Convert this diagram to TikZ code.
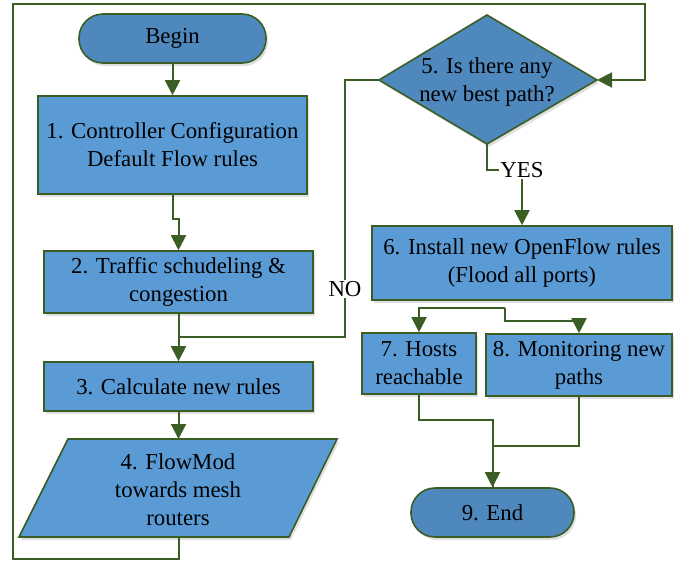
\documentclass[tikz,border=0pt]{standalone}
\usepackage{fontspec}
\setmainfont{Liberation Serif}
\usetikzlibrary{arrows.meta,shadows,calc}
\definecolor{edgegreen}{HTML}{3B5E24}
\definecolor{boxblue}{HTML}{5B9BD5}
\definecolor{termblue}{HTML}{4F88BD}
\tikzset{
  shadowed/.style={drop shadow={shadow xshift=2pt,shadow yshift=-3pt,opacity=0.12,fill=black}},
  procbox/.style={draw=edgegreen, line width=1.6pt, fill=boxblue, inner sep=0pt, align=center, shadowed},
  termbox/.style={draw=edgegreen, line width=1.6pt, fill=termblue, inner sep=0pt, rounded corners=24pt, align=center, shadowed},
  link/.style={draw=edgegreen, line width=2pt},
  arr/.style={link, -{Triangle[length=15pt,width=15pt]}},
  lbl/.style={fill=white, inner sep=1pt},
}
\begin{document}
\begin{tikzpicture}[x=1pt,y=-1pt,font=\fontsize{22.8}{28}\selectfont]
\useasboundingbox (0,0) rectangle (681,563);
% nodes
\node[termbox, minimum width=187, minimum height=49] (begin) at (172.5,38.5) {Begin};
\node[procbox, minimum width=269, minimum height=98] (b1) at (172.5,145) {1. Controller Configuration\\Default Flow rules};
\node[procbox, minimum width=269, minimum height=62] (b2) at (178.5,282) {2. Traffic schudeling \&\\congestion};
\node[procbox, minimum width=269, minimum height=49] (b3) at (178.5,386.5) {3. Calculate new rules};
% parallelogram 4
\fill[black,opacity=0.12] (70,442)--(339,442)--(291,540)--(21,540)--cycle;
\draw[draw=edgegreen, line width=1.6pt, fill=boxblue] (68,439)--(337,439)--(289,537)--(19,537)--cycle;
\node[align=center] (b4) at (178,490) {4. FlowMod\\towards mesh\\routers};
\coordinate (b4top) at (178.5,439);
\coordinate (b4bot) at (178.5,537);
% diamond 5
\coordinate (dl) at (379,80);
\coordinate (dt) at (487,15);
\coordinate (dr) at (597,80);
\coordinate (db) at (487,144);
\fill[black,opacity=0.12] ($(dl)+(2,3)$)--($(dt)+(2,3)$)--($(dr)+(2,3)$)--($(db)+(2,3)$)--cycle;
\draw[draw=edgegreen, line width=1.6pt, fill=termblue] (dl)--(dt)--(dr)--(db)--cycle;
\node[align=center] (b5) at (487,82) {5. Is there any\\new best path?};
\node[procbox, minimum width=300, minimum height=74] (b6) at (522,263) {6. Install new OpenFlow rules\\(Flood all ports)};
\node[procbox, minimum width=114, minimum height=61] (b7) at (419,363.5) {7. Hosts\\reachable};
\node[procbox, minimum width=186, minimum height=62] (b8) at (579,365) {8. Monitoring new\\paths};
\node[termbox, minimum width=163, minimum height=49] (end) at (492.5,512.5) {9. End};
% connectors
\draw[arr] (begin.south) -- (b1.north);
\draw[arr] (b1.south) -- ++(0,24) -| (b2.north);
\draw[arr] (b2.south) -- (b3.north);
\draw[arr] (b3.south) -- (b4top);
\coordinate (nojoin) at (178.5,337);
\draw[link] (dl) -- ++(-34,0) |- (nojoin);
\node[lbl] (no) at (345,289) {NO};
\draw[arr] (db) -- ++(0,26) -| (b6.north);
\node[lbl] (yes) at (522,170) {YES};
\coordinate (split) at (505,308);
\draw[arr] (split) -| (b7.north);
\draw[arr] (split) -- ++(0,13) -| (b8.north);
\draw[link] (b8.south) -- ++(0,49) -| (end.north);
\draw[arr] (b7.south) -- ++(0,25) -| (end.north);
\draw[arr] (b4bot) -- (178.5,559) -- (13,559) -- (13,4) -- (645,4) |- (dr);
\end{tikzpicture}
\end{document}
